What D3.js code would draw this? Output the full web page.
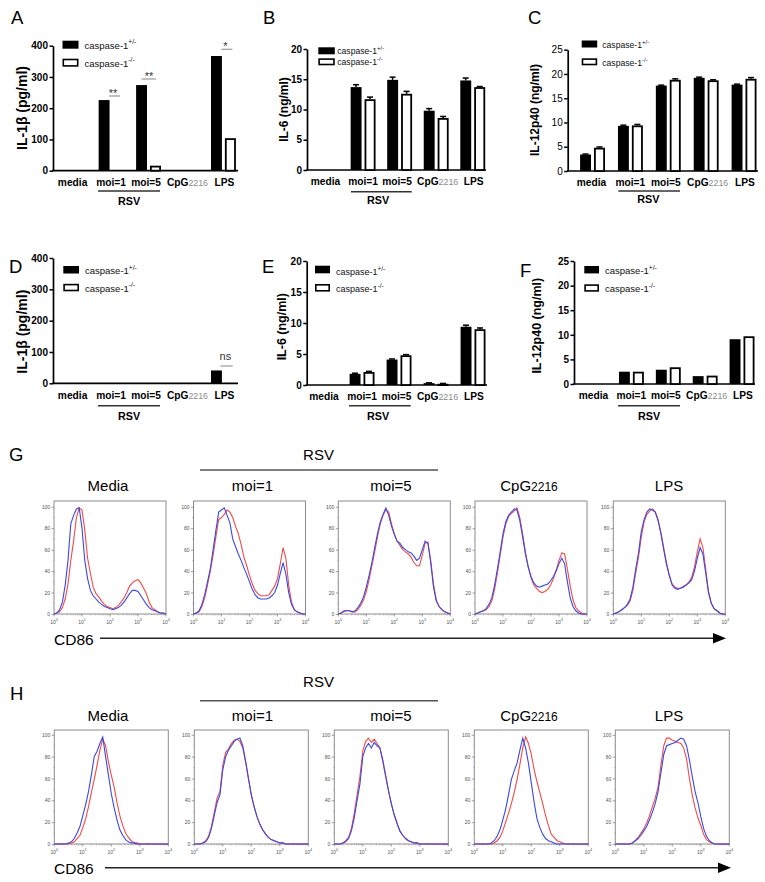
<!DOCTYPE html>
<html><head><meta charset="utf-8">
<script src="https://cdn.jsdelivr.net/npm/d3@7"></script>
<style>body{margin:0;background:#fff}svg{display:block;font-family:"Liberation Sans",Arial,sans-serif}</style>
</head><body>
<svg id="c" width="765" height="882"></svg>
<script>
// ---------- DATA ----------
const categories = ["media", "moi=1", "moi=5", "CpG2216", "LPS"];
const seriesNames = ["caspase-1", "caspase-1"];
const seriesSup = ["+/-", "-/-"];

// Panel A: IL-1β (pg/ml)
const aHet = [0, 226, 274, 0, 367];
const aKo  = [0, 0, 16, 0, 104];
const aTicks = [0, 100, 200, 300, 400];
// Panel B: IL-6 (ng/ml)
const bHet = [0, 13.7, 14.9, 9.8, 14.8];
const bKo  = [0, 11.7, 12.6, 8.6, 13.7];
const bHetErr = [0, 0.4, 0.45, 0.35, 0.4];
const bKoErr  = [0, 0.35, 0.4, 0.25, 0.1];
const bTicks = [0, 5, 10, 15, 20];
// Panel C: IL-12p40 (ng/ml)
const cHet = [3.4, 9.3, 17.6, 19.2, 17.8];
const cKo  = [4.8, 9.4, 18.8, 18.7, 19.0];
const cHetErr = [0.1, 0.15, 0.1, 0.15, 0.1];
const cKoErr  = [0.15, 0.2, 0.2, 0.1, 0.25];
const cTicks = [0, 5, 10, 15, 20, 25];
// Panel D: IL-1β (pg/ml)
const dHet = [0, 0, 0, 0, 41];
const dKo  = [0, 0, 0, 0, 0];
// Panel E: IL-6 (ng/ml)
const eHet = [0, 1.8, 4.1, 0.3, 9.4];
const eKo  = [0, 2.1, 4.8, 0.2, 9.0];
const eHetErr = [0, 0.1, 0.1, 0.05, 0.25];
const eKoErr  = [0, 0.1, 0.1, 0.05, 0.2];
// Panel F: IL-12p40 (ng/ml)
const fHet = [0, 2.5, 2.9, 1.6, 9.1];
const fKo  = [0, 2.5, 3.4, 1.7, 9.7];

// Histograms (CD86), % of max at log10 positions 0.0 .. 4.0 step 0.1
const histLog = [0,0.1,0.2,0.3,0.4,0.5,0.6,0.7,0.8,0.9,1,1.1,1.2,1.3,1.4,1.5,1.6,1.7,1.8,1.9,2,2.1,2.2,2.3,2.4,2.5,2.6,2.7,2.8,2.9,3,3.1,3.2,3.3,3.4,3.5,3.6,3.7,3.8,3.9,4];
const histTitles = ["Media", "moi=1", "moi=5", "CpG2216", "LPS"];
const histYTicks = [0, 20, 40, 60, 80, 100];
const histXTicks = [0, 1, 2, 3, 4];

const gMediaRed  = [0,1,2,6,14,28,50,68,90,99,97,78,52,38,25,19,16,12,9,7,6,5,6,8,11,15,20,26,29,31,32,29,24,19,11,6,4,2,1,1,0];
const gMediaBlue = [0,1,4,11,27,50,84,92,98,99,80,50,33,22,17,14,11,9,7,6,5,4,5,6,8,11,15,19,22,22,21,17,13,9,6,4,3,2,1,1,0];
const gMoi1Red   = [0,1,2,7,15,27,40,55,72,88,90,93,97,95,90,82,75,65,53,45,36,28,22,19,17,17,17,18,22,26,33,47,62,52,27,11,4,2,1,0,0];
const gMoi1Blue  = [0,1,3,9,18,30,42,60,78,95,97,99,92,85,70,63,56,50,43,37,30,23,18,15,14,14,14,15,17,20,27,38,48,37,20,9,4,2,1,0,0];
const gMoi5Red   = [0,1,2,3,3,2,2,4,8,13,21,32,45,58,72,84,92,97,95,84,75,68,64,60,58,56,53,48,45,45,55,66,67,50,28,13,7,4,2,1,0];
const gMoi5Blue  = [0,1,3,3,3,2,3,6,10,16,25,36,48,62,75,86,93,99,92,82,74,68,66,62,60,58,57,54,50,52,60,68,66,48,25,12,7,4,2,1,0];
const gCpgRed    = [0,1,2,3,4,7,12,23,38,55,72,84,91,94,96,99,90,75,58,44,34,27,24,21,20,21,23,27,33,41,50,57,56,42,26,13,6,3,1,0,0];
const gCpgBlue   = [0,1,2,3,5,9,15,27,42,58,75,86,92,95,98,97,87,72,56,44,35,29,26,25,26,27,28,31,35,40,47,52,47,30,15,7,3,1,0,0,0];
const gLpsRed    = [0,1,2,4,6,8,12,22,38,53,72,86,93,96,98,95,88,76,62,48,36,28,25,24,24,26,27,30,34,44,58,70,62,42,21,10,5,3,1,0,0];
const gLpsBlue   = [0,1,2,4,6,9,14,25,42,57,77,88,95,98,97,95,87,75,60,46,36,27,24,23,24,25,27,29,32,40,52,62,56,38,20,10,5,3,1,0,0];

const hMediaRed  = [0,0,0,0,0,0,1,2,5,8,15,23,34,47,59,72,86,96,90,75,63,52,38,26,17,10,6,3,1,1,0,0,0,0,0,0,0,0,0,0,0];
const hMediaBlue = [0,0,0,0,0,1,2,5,10,16,26,36,48,63,80,85,92,98,80,63,46,33,22,13,8,4,2,1,1,0,0,0,0,0,0,0,0,0,0,0,0];
const hMoi1Red   = [0,0,0,1,3,7,16,29,42,48,72,84,87,92,95,96,94,88,75,60,45,34,25,18,13,9,6,4,3,2,1,1,0,0,0,0,0,0,0,0,0];
const hMoi1Blue  = [0,0,0,1,2,6,14,26,38,45,68,80,86,90,94,96,97,90,76,60,45,34,25,18,13,9,6,4,3,2,1,1,0,0,0,0,0,0,0,0,0];
const hMoi5Red   = [0,0,0,1,3,6,14,28,45,62,85,94,97,93,96,92,88,76,62,49,37,27,19,12,8,5,3,2,1,1,0,0,0,0,0,0,0,0,0,0,0];
const hMoi5Blue  = [0,0,0,1,2,5,12,24,40,55,80,88,92,88,93,90,88,77,63,49,37,27,19,12,8,5,3,2,1,1,0,0,0,0,0,0,0,0,0,0,0];
const hCpgRed    = [0,0,0,0,0,0,0,1,3,6,12,20,28,37,47,59,73,88,98,92,82,68,57,47,37,26,17,9,6,3,2,1,0,0,0,0,0,0,0,0,0];
const hCpgBlue   = [0,0,0,0,0,0,1,3,7,13,22,32,45,59,67,74,86,97,88,74,56,38,23,15,9,5,3,2,1,0,0,0,0,0,0,0,0,0,0,0,0];
const hLpsRed    = [0,0,0,0,0,0,1,3,6,10,14,19,26,34,42,52,72,90,97,97,95,94,93,92,88,78,60,45,33,24,17,9,4,2,1,0,0,0,0,0,0];
const hLpsBlue   = [0,0,0,0,0,0,1,3,5,8,12,16,22,29,37,48,65,82,90,91,92,93,95,97,96,90,77,62,48,38,25,14,7,3,1,0,0,0,0,0,0];

// ---------- DRAW ----------
const svg = d3.select("#c");
const RED = "#ef4b47", BLUE = "#3a48e4";
const labelShift = {"media": -1, "moi=1": 0, "moi=5": -2.5, "CpG2216": 1.5, "LPS": 1};

function catLabel(sel, name, bigSize, smallSize, smallColor, weight) {
  if (name === "CpG2216") {
    sel.append("tspan").text("CpG").attr("font-size", bigSize).attr("font-weight", weight);
    sel.append("tspan").text("2216").attr("font-size", smallSize).attr("font-weight", "normal").attr("fill", smallColor);
  } else {
    sel.append("tspan").text(name).attr("font-size", bigSize).attr("font-weight", weight);
  }
}

function barPanel(p) {
  const g = svg.append("g");
  const y = d3.scaleLinear().domain([0, p.yMax]).range([p.y0, p.yTop]);
  const x = d3.scalePoint().domain(categories).range([p.c0, p.c1]);

  g.append("text").attr("x", p.lx).attr("y", p.ly).attr("font-size", 18.5).text(p.letter);

  // y axis
  const ya = g.append("g").attr("transform", `translate(${p.ax},0)`)
    .call(d3.axisLeft(y).tickValues(p.ticks).tickSize(3.5).tickSizeOuter(0).tickPadding(1.5));
  ya.select(".domain").attr("stroke", "#000").attr("stroke-width", 1.7);
  ya.selectAll(".tick line").attr("stroke", "#000").attr("stroke-width", 1.5);
  ya.selectAll(".tick text").attr("font-size", 10).attr("font-weight", p.tickWeight)
    .attr("font-family", "Liberation Sans, Arial, sans-serif").attr("fill", "#000");
  // x axis line
  g.append("line").attr("x1", p.ax - 0.8).attr("x2", p.axEnd).attr("y1", p.y0).attr("y2", p.y0)
    .attr("stroke", "#000").attr("stroke-width", 1.7);

  // bars
  categories.forEach((c, i) => {
    const cx = x(c);
    const hv = p.het[i], kv = p.ko[i];
    if (hv > 0) {
      g.append("rect").attr("x", cx - 12.4).attr("width", 10.9)
        .attr("y", y(hv)).attr("height", p.y0 - y(hv)).attr("fill", "#000");
      if (p.hetErr && p.hetErr[i] > 0) {
        const ye = y(hv + p.hetErr[i]);
        g.append("line").attr("x1", cx - 7).attr("x2", cx - 7).attr("y1", y(hv)).attr("y2", ye).attr("stroke", "#000").attr("stroke-width", 1.5);
        g.append("line").attr("x1", cx - 10).attr("x2", cx - 4).attr("y1", ye).attr("y2", ye).attr("stroke", "#000").attr("stroke-width", 1.5);
      }
    }
    if (kv > 0) {
      g.append("rect").attr("x", cx + 2.4).attr("width", 9.2)
        .attr("y", y(kv) + 0.9).attr("height", Math.max(0, p.y0 - y(kv) - 0.9))
        .attr("fill", "#fff").attr("stroke", "#000").attr("stroke-width", 1.8);
      if (p.koErr && p.koErr[i] > 0) {
        const ye = y(kv + p.koErr[i]);
        g.append("line").attr("x1", cx + 7).attr("x2", cx + 7).attr("y1", y(kv)).attr("y2", ye).attr("stroke", "#000").attr("stroke-width", 1.5);
        g.append("line").attr("x1", cx + 4).attr("x2", cx + 10).attr("y1", ye).attr("y2", ye).attr("stroke", "#000").attr("stroke-width", 1.5);
      }
    }
    const t = g.append("text").attr("x", cx + labelShift[c]).attr("y", p.labelY).attr("text-anchor", "middle");
    catLabel(t, c, 10.2, 8.8, "#8a8a8a", "bold");
  });

  // RSV bracket
  g.append("line").attr("x1", p.rsv[0]).attr("x2", p.rsv[1]).attr("y1", p.rsv[2]).attr("y2", p.rsv[2])
    .attr("stroke", "#333").attr("stroke-width", 1.4);
  g.append("text").attr("x", p.rsv[4]).attr("y", p.rsv[3]).attr("text-anchor", "middle")
    .attr("font-size", 10.8).attr("font-weight", "bold").text("RSV");

  // y label
  g.append("text").attr("transform", `translate(${p.ylab[0]},${p.ylab[1]}) rotate(-90)`)
    .attr("text-anchor", "middle").attr("dy", "0.35em").attr("font-size", p.ylab[2]).attr("font-weight", "bold").text(p.ylabel);

  // legend
  const L = p.legend; // [x, w, h, y1, y2, tx, b1, b2, size]
  g.append("rect").attr("x", L[0]).attr("y", L[3]).attr("width", L[1]).attr("height", L[2]).attr("fill", "#000");
  g.append("rect").attr("x", L[0] + 0.8).attr("y", L[4] + 0.8).attr("width", L[1] - 1.6).attr("height", L[2] - 1.6)
    .attr("fill", "#fff").attr("stroke", "#000").attr("stroke-width", 1.6);
  [L[6], L[7]].forEach((b, k) => {
    const t = g.append("text").attr("x", L[5]).attr("y", b).attr("font-size", L[8]).attr("fill", "#111");
    t.append("tspan").text(seriesNames[k]);
    t.append("tspan").attr("dy", -L[8] * 0.45).attr("font-size", L[8] * 0.7).text(seriesSup[k]);
  });

  // significance
  (p.sig || []).forEach(s => {
    const cx = x(s.cat);
    g.append("line").attr("x1", cx + s.l1).attr("x2", cx + s.l2).attr("y1", s.ly).attr("y2", s.ly)
      .attr("stroke", "#999").attr("stroke-width", 1.2);
    g.append("text").attr("x", cx + s.tx).attr("y", s.ty).attr("text-anchor", "middle")
      .attr("font-size", s.size).attr("fill", "#333").text(s.text);
  });
}

barPanel({letter:"A", lx:11, ly:23.5, het:aHet, ko:aKo, yMax:400, ticks:aTicks, y0:170.7, yTop:45.7,
  ax:53, axEnd:238, c0:73.6, c1:223.4, labelY:185.5, tickWeight:"bold",
  rsv:[98,160,191,205,129], ylabel:"IL-1β (pg/ml)", ylab:[22,108,14],
  legend:[62.5,16,8,40.7,58.7,84.5,48.7,66.7,9.5],
  sig:[{cat:"moi=1",l1:-2,l2:9,ly:96,tx:2,ty:96.5,text:"**",size:11},
       {cat:"moi=5",l1:-7,l2:7.5,ly:79,tx:0.5,ty:79.5,text:"**",size:11},
       {cat:"LPS",l1:-2,l2:9,ly:49.3,tx:2,ty:49.8,text:"*",size:11}]});

barPanel({letter:"B", lx:263, ly:23.5, het:bHet, ko:bKo, hetErr:bHetErr, koErr:bKoErr, yMax:20, ticks:bTicks, y0:170, yTop:49,
  ax:307, axEnd:486, c0:326.5, c1:472.7, labelY:185, tickWeight:"bold",
  rsv:[351,411.7,191.7,203.5,378], ylabel:"IL-6 (ng/ml)", ylab:[284,109.5,12],
  legend:[318.3,16.5,7,47.3,58.3,337.3,54.3,65.3,8.6]});

barPanel({letter:"C", lx:528, ly:24, het:cHet, ko:cKo, hetErr:cHetErr, koErr:cKoErr, yMax:25, ticks:cTicks, y0:171, yTop:49.7,
  ax:567.7, axEnd:758, c0:592.5, c1:744, labelY:186, tickWeight:"normal",
  rsv:[618.3,680,191,202.5,648.3], ylabel:"IL-12p40 (ng/ml)", ylab:[534.7,110,12],
  legend:[581.7,15.5,7,40.5,58.3,602.3,47.7,66,8.6]});

barPanel({letter:"D", lx:9, ly:273, het:dHet, ko:dKo, yMax:400, ticks:aTicks, y0:383.3, yTop:258,
  ax:53, axEnd:238, c0:73.6, c1:223.4, labelY:399, tickWeight:"bold",
  rsv:[98,160,405.7,419.7,129], ylabel:"IL-1β (pg/ml)", ylab:[22,331.7,14],
  legend:[63.3,15.7,7.5,266,283.8,85,274,291.7,9.5],
  sig:[{cat:"LPS",l1:-3,l2:9.3,ly:366,tx:2,ty:359.5,text:"ns",size:11}]});

barPanel({letter:"E", lx:262, ly:273, het:eHet, ko:eKo, hetErr:eHetErr, koErr:eKoErr, yMax:20, ticks:bTicks, y0:385, yTop:261,
  ax:306.7, axEnd:487, c0:325, c1:473, labelY:400, tickWeight:"bold",
  rsv:[349,410.7,405.7,419.5,378], ylabel:"IL-6 (ng/ml)", ylab:[281.7,326.7,12.5],
  legend:[315,15,7.6,265.7,284,336,274.7,292.3,9]});

barPanel({letter:"F", lx:520, ly:277, het:fHet, ko:fKo, yMax:25, ticks:cTicks, y0:384, yTop:261,
  ax:574, axEnd:755, c0:594.5, c1:742, labelY:399, tickWeight:"bold",
  rsv:[618,680,405.7,419.5,649], ylabel:"IL-12p40 (ng/ml)", ylab:[536.7,325.7,12.5],
  legend:[584.3,14.7,7.4,266,284.3,605,274,292.3,9.5]});

// ---------- HISTOGRAMS ----------
function histRow(r) {
  const g = svg.append("g");
  g.append("text").attr("x", r.letter[1]).attr("y", r.letter[2]).attr("font-size", 18.5).text(r.letter[0]);
  g.append("text").attr("x", 318.5).attr("y", r.rsvY).attr("text-anchor", "middle").attr("font-size", 15).text("RSV");
  g.append("line").attr("x1", 200).attr("x2", 438).attr("y1", r.rsvLine).attr("y2", r.rsvLine)
    .attr("stroke", "#555").attr("stroke-width", 1.4);

  r.boxes.forEach((bx, i) => {
    const x = d3.scaleLog().domain([1, 1e4]).range([bx, bx + r.bw]);
    const y = d3.scaleLinear().domain([0, r.yTopVal]).range([r.by + r.bh, r.by]);
    const t = g.append("text").attr("x", r.titleX[i]).attr("y", r.titleY).attr("text-anchor", "middle");
    catLabel(t, histTitles[i], 15, 12, "#000", "normal");

    // box
    g.append("rect").attr("x", bx).attr("y", r.by).attr("width", r.bw).attr("height", r.bh)
      .attr("fill", "none").attr("stroke", "#8c8c8c").attr("stroke-width", 1);
    // y ticks
    const ya = g.append("g").attr("transform", `translate(${bx},0)`)
      .call(d3.axisLeft(y).tickValues(histYTicks).tickSize(2.5).tickSizeOuter(0).tickPadding(1.5));
    ya.select(".domain").remove();
    ya.selectAll(".tick line").attr("stroke", "#777").attr("stroke-width", 0.7);
    ya.selectAll(".tick text").attr("font-size", 5).attr("fill", "#555").attr("font-family", "Liberation Sans, Arial, sans-serif");
    d3.range(10, 101, 20).forEach(v => g.append("line").attr("x1", bx - 1.3).attr("x2", bx)
      .attr("y1", y(v)).attr("y2", y(v)).attr("stroke", "#999").attr("stroke-width", 0.6));
    // x ticks
    const minors = [];
    [1, 10, 100, 1000].forEach(d => { for (let k = 2; k <= 9; k++) minors.push(d * k); });
    minors.forEach(v => g.append("line").attr("x1", x(v)).attr("x2", x(v)).attr("y1", r.by + r.bh).attr("y2", r.by + r.bh + 1.4)
      .attr("stroke", "#999").attr("stroke-width", 0.6));
    histXTicks.forEach(e => {
      const xv = x(Math.pow(10, e));
      g.append("line").attr("x1", xv).attr("x2", xv).attr("y1", r.by + r.bh).attr("y2", r.by + r.bh + 2.5)
        .attr("stroke", "#777").attr("stroke-width", 0.7);
      const tt = g.append("text").attr("x", xv).attr("y", r.by + r.bh + 9.5).attr("text-anchor", "middle")
        .attr("font-size", 5).attr("fill", "#555");
      tt.append("tspan").text("10");
      tt.append("tspan").attr("dy", -2.2).attr("font-size", 3.8).text(e);
    });
    // curves
    const line = d3.line().x((d, k) => x(Math.pow(10, histLog[k]))).y(d => y(d));
    g.append("path").datum(r.red[i]).attr("d", line).attr("fill", "none").attr("stroke", RED).attr("stroke-width", 1.1);
    g.append("path").datum(r.blue[i]).attr("d", line).attr("fill", "none").attr("stroke", BLUE).attr("stroke-width", 1.1);
  });

  // CD86 arrow
  g.append("text").attr("x", 54).attr("y", r.cd86Y).attr("font-size", 15.5).text("CD86");
  g.append("line").attr("x1", r.arrow[0]).attr("x2", r.arrow[1]).attr("y1", r.arrow[3]).attr("y2", r.arrow[3])
    .attr("stroke", "#222").attr("stroke-width", 1.4);
  const ay = r.arrow[3], ax1 = r.arrow[1] - 1, ax2 = r.arrow[2];
  g.append("path").attr("d", `M${ax1},${ay - 5.2}L${ax2},${ay}L${ax1},${ay + 5.2}Z`).attr("fill", "#000");
}

histRow({letter:["G", 9, 461], rsvY:460, rsvLine:470, titleY:490.5, titleX:[108,252.5,391,529,669],
  boxes:[54,193.5,338.3,475,613.3], bw:112, by:501, bh:113, yTopVal:105.4,
  red:[gMediaRed,gMoi1Red,gMoi5Red,gCpgRed,gLpsRed], blue:[gMediaBlue,gMoi1Blue,gMoi5Blue,gCpgBlue,gLpsBlue],
  cd86Y:645, arrow:[100,714,726,638.3]});

histRow({letter:["H", 10, 700], rsvY:687, rsvLine:700.7, titleY:720.5, titleX:[108,252.5,391,529,669],
  boxes:[54.3,194.3,334.3,474.3,615.3], bw:114, by:730, bh:114, yTopVal:104.4,
  red:[hMediaRed,hMoi1Red,hMoi5Red,hCpgRed,hLpsRed], blue:[hMediaBlue,hMoi1Blue,hMoi5Blue,hCpgBlue,hLpsBlue],
  cd86Y:874, arrow:[105,719,731,867.7]});
</script>
</body></html>
